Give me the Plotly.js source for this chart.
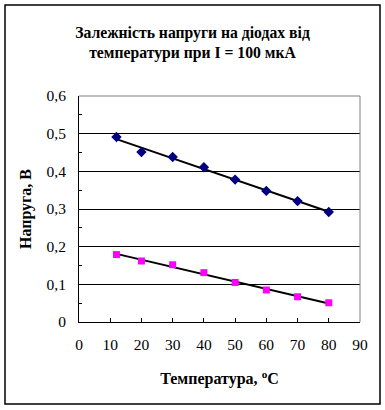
<!DOCTYPE html>
<html><head><meta charset="utf-8">
<script src="https://cdn.plot.ly/plotly-3.0.1.min.js"></script>
<style>html,body{margin:0;padding:0;background:#fff}#chart{width:385px;height:410px}</style>
</head><body><div id="chart"></div>
<script>
const temperatures = [12, 20, 30, 40, 50, 60, 70, 80];
const diode1Voltage = [0.491, 0.451, 0.438, 0.411, 0.378, 0.348, 0.321, 0.292];
const diode2Voltage = [0.179, 0.162, 0.152, 0.131, 0.105, 0.085, 0.067, 0.051];
const xTicks = [0, 10, 20, 30, 40, 50, 60, 70, 80, 90];
const yTicks = [0, 0.1, 0.2, 0.3, 0.4, 0.5, 0.6];

function linFit(xs, ys) {
  const n = xs.length;
  const mx = xs.reduce((a, b) => a + b, 0) / n;
  const my = ys.reduce((a, b) => a + b, 0) / n;
  let sxy = 0, sxx = 0;
  for (let i = 0; i < n; i++) { sxy += (xs[i] - mx) * (ys[i] - my); sxx += (xs[i] - mx) ** 2; }
  const b = sxy / sxx, a = my - b * mx;
  const x0 = Math.min(...xs), x1 = Math.max(...xs);
  return { x: [x0, x1], y: [a + b * x0, a + b * x1] };
}
const f1 = linFit(temperatures, diode1Voltage);
const f2 = linFit(temperatures, diode2Voltage);

const font = "Liberation Serif, Times New Roman, serif";
const L = 79, R = 360, T = 96, B = 322;
const W = R - L, H = B - T;
const px = v => (v - L) / W;
const py = v => (B - v) / H;

const traces = [
  { x: f1.x, y: f1.y, mode: 'lines', line: { color: '#000', width: 2 }, hoverinfo: 'skip' },
  { x: f2.x, y: f2.y, mode: 'lines', line: { color: '#000', width: 2 }, hoverinfo: 'skip' },
  { x: temperatures, y: diode1Voltage, mode: 'markers', marker: { symbol: 'diamond', color: '#000080', size: 8 } },
  { x: temperatures, y: diode2Voltage, mode: 'markers', marker: { symbol: 'square', color: '#FF00FF', size: 7 } }
];

const layout = {
  width: 385, height: 410,
  margin: { l: L, r: 385 - R, t: T, b: 410 - B, pad: 0 },
  paper_bgcolor: '#fff', plot_bgcolor: '#fff',
  showlegend: false,
  font: { family: font, size: 15, color: '#000' },
  title: {
    text: '<b>Залежність напруги на діодах від<br>температури при I = 100 мкА</b>',
    font: { family: font, size: 15.7, color: '#000' },
    x: 0.5, xref: 'container', xanchor: 'center',
    y: 1 - 38 / 410, yref: 'container', yanchor: 'middle'
  },
  xaxis: {
    range: [0, 90], tickvals: xTicks, ticktext: xTicks.map(String),
    showgrid: false, zeroline: false,
    showline: true, linecolor: '#000', linewidth: 1,
    ticks: 'inside', ticklen: 4, tickcolor: '#000',
    tickfont: { family: font, size: 15.5 },
    ticklabelstandoff: 8,
    title: { text: '<b>Температура, <sup>o</sup>C</b>', font: { family: font, size: 16 }, standoff: 21 },
    fixedrange: true
  },
  yaxis: {
    range: [0, 0.6], tickvals: yTicks, ticktext: yTicks.map(v => v === 0 ? '0' : v.toFixed(1).replace('.', ',')),
    showgrid: true, gridcolor: '#000', gridwidth: 1, zeroline: false,
    showline: true, linecolor: '#000', linewidth: 1,
    ticks: 'inside', ticklen: 3, tickcolor: '#000',
    minor: { dtick: 0.05, tick0: 0, ticks: 'inside', ticklen: 3, tickcolor: '#000', showgrid: false },
    tickfont: { family: font, size: 15.5 },
    ticklabelstandoff: 9,
    title: { text: '<b>Напруга, В</b>', font: { family: font, size: 16 }, standoff: 10 },
    fixedrange: true
  },
  shapes: [
    { type: 'line', xref: 'paper', yref: 'paper', x0: 0, x1: 1, y0: 1, y1: 1, line: { color: '#808080', width: 1 } },
    { type: 'line', xref: 'paper', yref: 'paper', x0: 1, x1: 1, y0: 0, y1: 1, line: { color: '#808080', width: 1 } },
    { type: 'rect', xref: 'paper', yref: 'paper', x0: px(5), x1: px(380), y0: py(404), y1: py(5), line: { color: '#000', width: 1.5 }, layer: 'below' }
  ]
};

Plotly.newPlot('chart', traces, layout, { displayModeBar: false, staticPlot: true });
</script></body></html>
